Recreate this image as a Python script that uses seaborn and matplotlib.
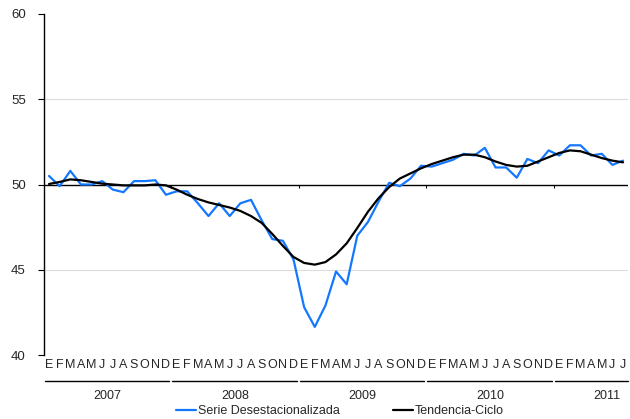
import matplotlib
matplotlib.use("Agg")
import matplotlib.pyplot as plt
import matplotlib.transforms as mtransforms
import pandas as pd
import seaborn as sns

sns.set_theme(style="white")
plt.rcParams['font.family'] = ['Liberation Sans', 'DejaVu Sans']

# datos mensuales, enero 2007 a julio 2011
meses = list("EFMAMJJASOND") * 4 + list("EFMAMJJ")
anios = ["2007", "2008", "2009", "2010", "2011"]

serie_desest = [50.5, 49.9, 50.8, 50.0, 50.0, 50.2, 49.7, 49.55, 50.2, 50.2, 50.25, 49.4,
                49.6, 49.6, 48.9, 48.15, 48.9, 48.15, 48.9, 49.1, 47.9, 46.8, 46.7, 45.6,
                42.8, 41.65, 42.9, 44.9, 44.15, 47.0, 47.8, 49.0, 50.1, 49.9, 50.35, 51.1,
                51.05, 51.25, 51.45, 51.8, 51.7, 52.15, 51.0, 51.0, 50.4, 51.5, 51.25, 52.0,
                51.7, 52.3, 52.3, 51.7, 51.8, 51.15, 51.4]

tendencia = [50.03, 50.15, 50.3, 50.25, 50.15, 50.05, 50.0, 49.95, 49.95, 49.95, 50.0, 49.95,
             49.7, 49.4, 49.15, 48.95, 48.8, 48.65, 48.45, 48.15, 47.75, 47.1, 46.4, 45.75,
             45.4, 45.3, 45.45, 45.9, 46.55, 47.45, 48.4, 49.2, 49.85, 50.35, 50.65, 50.95,
             51.2, 51.4, 51.6, 51.75, 51.75, 51.6, 51.35, 51.15, 51.05, 51.1, 51.35, 51.6,
             51.85, 52.0, 51.95, 51.75, 51.55, 51.4, 51.3]

n = len(meses)
df = pd.DataFrame({
    "idx": list(range(n)) * 2,
    "valor": serie_desest + tendencia,
    "serie": ["Serie Desestacionalizada"] * n + ["Tendencia-Ciclo"] * n,
})

fig = plt.figure(figsize=(6.3, 4.19), dpi=100)
ax = fig.add_axes([0.0694, 0.1527, 0.928, 0.8139])

sns.lineplot(data=df, x="idx", y="valor", hue="serie",
             palette={"Serie Desestacionalizada": "#1478FF", "Tendencia-Ciclo": "black"},
             linewidth=1.6, legend=False, ax=ax)

ax.set_xlim(-0.5, n - 0.5)
ax.set_ylim(40, 60)
ax.set_yticks([40, 45, 50, 55, 60])
ax.set_yticklabels(["40", "45", "50", "55", "60"], fontsize=9.5)
for y in [40, 45, 55]:
    ax.axhline(y, color="#dcdcdc", lw=0.8, zorder=0)
ax.axhline(50, color="black", lw=1.0, zorder=1)

# marcas de separacion de años sobre la linea del 50
limites = [11.5, 23.5, 35.5, 47.5]
ax.vlines(limites, 49.78, 50, color="black", lw=0.8)

ax.set_xticks(range(n))
ax.set_xticklabels(meses, fontsize=9)
ax.tick_params(axis="x", length=0, pad=3)
ax.tick_params(axis="y", left=True, length=4, width=0.8, color="black", pad=9)
ax.set_xlabel("")
ax.set_ylabel("")
for s in ["top", "right", "bottom"]:
    ax.spines[s].set_visible(False)
ax.spines["left"].set_color("black")
ax.spines["left"].set_linewidth(1.0)

# grupos de años debajo del eje
trans = mtransforms.blended_transform_factory(ax.transData, ax.transAxes)
grupos = [(0, 11), (12, 23), (24, 35), (36, 47), (48, 54)]
centros = [5.5, 17.5, 29.5, 41.5, 52.5]
for (a, b), c, anio in zip(grupos, centros, anios):
    fin = b + 0.5 if b == n - 1 else b + 0.3
    ax.plot([a - 0.4, fin], [-0.076, -0.076], color="black", lw=1.0,
            transform=trans, clip_on=False)
    ax.text(c, -0.12, anio, transform=trans, ha="center", va="center", fontsize=9)

handles = ax.lines[:2]
fig.legend(handles, ["Serie Desestacionalizada", "Tendencia-Ciclo"],
           loc="center", bbox_to_anchor=(340 / 630, 8 / 419), ncol=2, frameon=False,
           fontsize=9, handlelength=1.6, handletextpad=0.2, columnspacing=4.2)

fig.savefig("out.png", dpi=100)
